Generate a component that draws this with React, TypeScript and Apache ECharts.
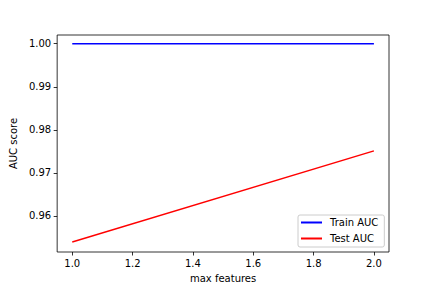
import React, { useEffect, useRef } from "react";
import * as echarts from "echarts";

const xValues = [1.0, 2.0];
const trainAUC = [1.0, 1.0];
const testAUC = [0.9539, 0.9751];
const xTicks = [1.0, 1.2, 1.4, 1.6, 1.8, 2.0];
const yTicks = [0.96, 0.97, 0.98, 0.99, 1.0];

export default function App() {
  const ref = useRef<HTMLDivElement>(null);
  useEffect(() => {
    const chart = echarts.init(ref.current!, null, { renderer: "svg" });
    const font = "DejaVu Sans";
    chart.setOption({
      animation: false,
      backgroundColor: "#ffffff",
      textStyle: { fontFamily: font },
      grid: {
        left: 54,
        top: 35,
        right: 43,
        bottom: 36,
        show: true,
        borderColor: "#000000",
        borderWidth: 0.8,
        backgroundColor: "transparent",
      },
      xAxis: {
        type: "value",
        min: 0.95,
        max: 2.05,
        name: "max features",
        nameLocation: "middle",
        nameGap: 21,
        nameTextStyle: { fontFamily: font, fontSize: 10, color: "#000" },
        axisLine: { show: false },
        splitLine: { show: false },
        axisTick: {
          show: true,
          customValues: xTicks,
          length: 3.5,
          lineStyle: { color: "#000", width: 0.8 },
        },
        axisLabel: {
          customValues: xTicks,
          formatter: (v: number) => v.toFixed(1),
          fontFamily: font,
          fontSize: 10,
          color: "#000",
          margin: 6,
        },
      },
      yAxis: {
        type: "value",
        min: 0.95159,
        max: 1.00203,
        name: "AUC score",
        nameLocation: "middle",
        nameGap: 37,
        nameTextStyle: { fontFamily: font, fontSize: 10, color: "#000" },
        axisLine: { show: false },
        splitLine: { show: false },
        axisTick: {
          show: true,
          customValues: yTicks,
          length: 3.5,
          lineStyle: { color: "#000", width: 0.8 },
        },
        axisLabel: {
          customValues: yTicks,
          formatter: (v: number) => v.toFixed(2),
          fontFamily: font,
          fontSize: 10,
          color: "#000",
          margin: 6,
        },
      },
      legend: {
        orient: "vertical",
        left: 298,
        top: 215,
        padding: [1, 6, 2, 3],
        itemGap: 3,
        itemWidth: 21,
        itemHeight: 2,
        icon: "rect",
        backgroundColor: "rgba(255,255,255,0.8)",
        borderColor: "#cccccc",
        borderWidth: 1,
        borderRadius: 2,
        textStyle: {
          fontFamily: font,
          fontSize: 10,
          color: "#000",
          lineHeight: 13,
          padding: [0, 0, 0, 3],
        },
        itemStyle: { borderWidth: 0 },
        data: ["Train AUC", "Test AUC"],
      },
      series: [
        {
          name: "Train AUC",
          type: "line",
          data: xValues.map((x, i) => [x, trainAUC[i]]),
          showSymbol: false,
          symbol: "none",
          lineStyle: { color: "#0000ff", width: 1.5 },
          itemStyle: { color: "#0000ff" },
        },
        {
          name: "Test AUC",
          type: "line",
          data: xValues.map((x, i) => [x, testAUC[i]]),
          showSymbol: false,
          symbol: "none",
          lineStyle: { color: "#ff0000", width: 1.5 },
          itemStyle: { color: "#ff0000" },
        },
      ],
    });
    return () => chart.dispose();
  }, []);
  return <div ref={ref} style={{ width: 432, height: 288, position: "fixed", left: 0, top: 0 }} />;
}
